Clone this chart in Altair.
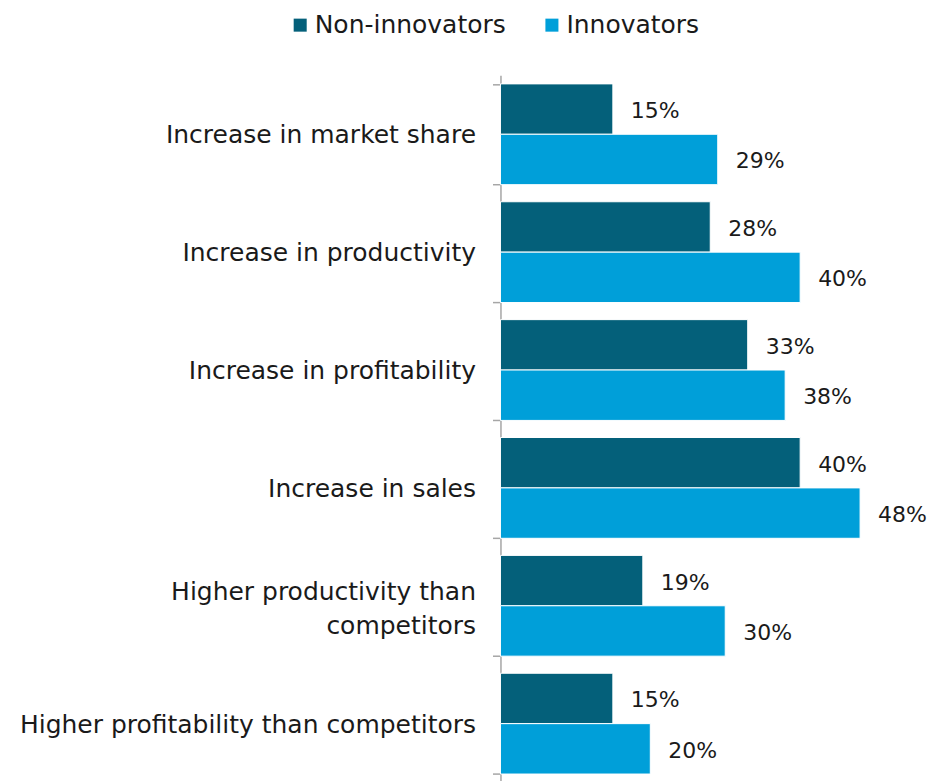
import altair as alt
import pandas as pd

categories = [
    "Increase in market share",
    "Increase in productivity",
    "Increase in profitability",
    "Increase in sales",
    "Higher productivity than competitors",
    "Higher profitability than competitors",
]
series = ["Non-innovators", "Innovators"]
non_innovators = [15, 28, 33, 40, 19, 15]
innovators = [29, 40, 38, 48, 30, 20]
colors = ["#04607a", "#009fd9"]

rows = []
for c, a, b in zip(categories, non_innovators, innovators):
    rows.append({"category": c, "series": series[0], "value": a, "label": f"{a}%"})
    rows.append({"category": c, "series": series[1], "value": b, "label": f"{b}%"})
df = pd.DataFrame(rows)

FONT = "DejaVu Sans"
WRAP = "Higher productivity than competitors"

y_enc = alt.Y(
    "category:N",
    sort=categories,
    scale=alt.Scale(paddingInner=0.145, paddingOuter=0.0725),
    axis=alt.Axis(
        title=None,
        domainColor="#a6a6a6",
        domainWidth=1.5,
        tickColor="#a6a6a6",
        tickWidth=1.5,
        tickSize=8,
        tickBand="extent",
        labelPadding=17,
        labelFontSize=25,
        labelFont=FONT,
        labelColor="#1a1a1a",
        labelLimit=500,
        labelLineHeight=34,
        labelExpr=f"datum.value == '{WRAP}' ? ['Higher productivity than', 'competitors'] : datum.label",
        labelOffset={"condition": {"test": f"datum.value == '{WRAP}'", "value": -14.5}, "value": 0.5},
    ),
)
yoff = alt.YOffset("series:N", sort=series, scale=alt.Scale(paddingInner=0))
x_enc = alt.X("value:Q", scale=alt.Scale(domain=[0, 56], nice=False), axis=None)

base = alt.Chart(df).encode(y=y_enc, yOffset=yoff, x=x_enc)

bars = base.mark_bar(stroke="white", strokeWidth=1).encode(
    color=alt.Color(
        "series:N",
        sort=series,
        scale=alt.Scale(domain=series, range=colors),
        legend=alt.Legend(
            title=None,
            orient="none",
            legendX=-213,
            legendY=-63,
            direction="horizontal",
            symbolType="square",
            symbolSize=170,
            symbolStrokeWidth=0,
            labelFontSize=25,
            labelFont=FONT,
            labelColor="#1a1a1a",
            labelOffset=2,
            columnPadding=33,
            labelLimit=400,
        ),
    )
)

labels = base.mark_text(
    align="left", baseline="middle", dx=18, dy=2, fontSize=22, font=FONT, color="#1a1a1a"
).encode(text="label:N")

chart = (
    alt.layer(bars, labels)
    .properties(
        width=420,
        height=708,
        background="white",
        autosize=alt.AutoSizeParams(type="none"),
        padding={"left": 493, "top": 67, "right": 20, "bottom": 0},
    )
    .configure_view(strokeWidth=0, stroke="transparent")
)

chart.save("out.html", embed_options={"renderer": "svg", "actions": False})
